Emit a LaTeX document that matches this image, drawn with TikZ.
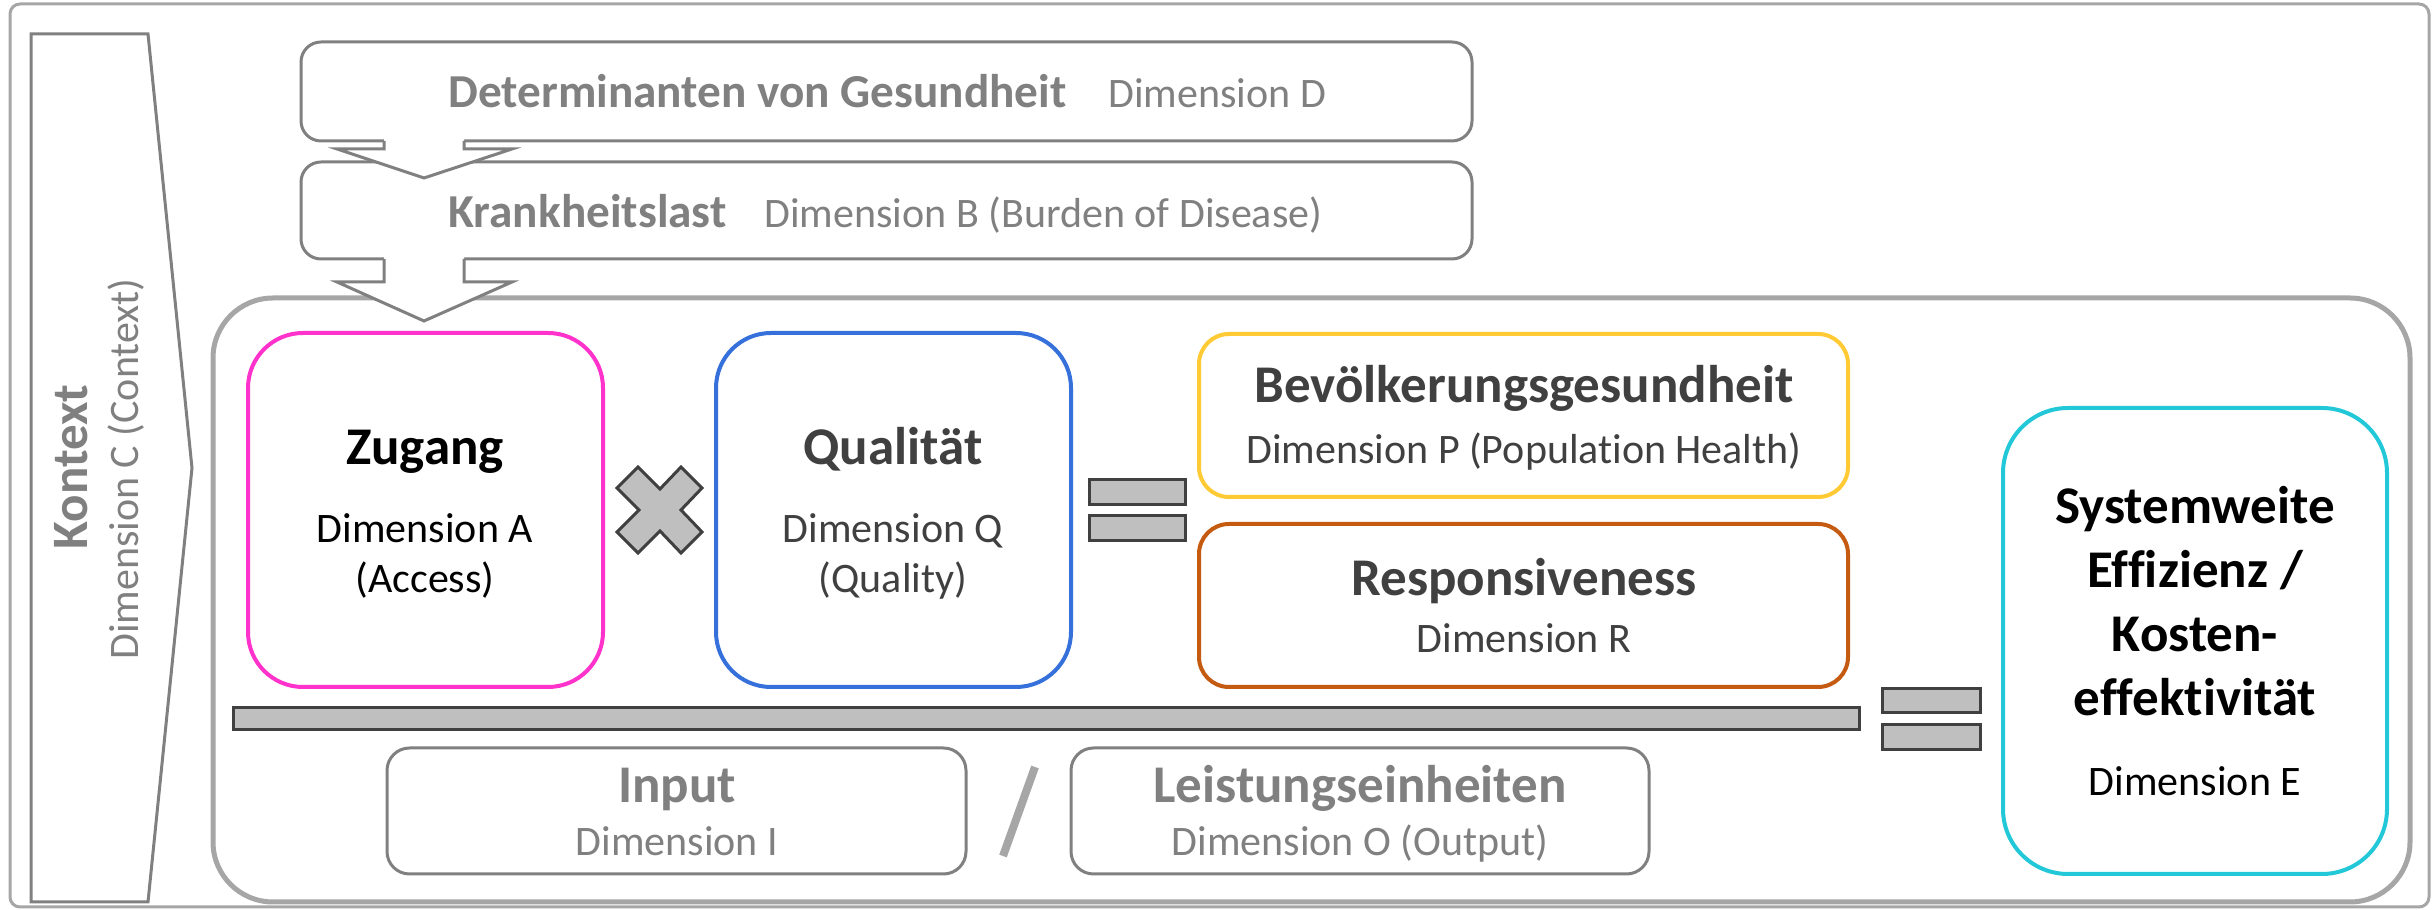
\documentclass[tikz,border=0pt]{standalone}
\usepackage{fontspec}
\setmainfont{Carlito}[Ligatures=CommonOff]
\usetikzlibrary{fit,calc}
\definecolor{lgray}{HTML}{A6A6A6}
\definecolor{mgray}{HTML}{808080}
\definecolor{dgray}{HTML}{404040}
\definecolor{barfill}{HTML}{BFBFBF}
\definecolor{cpink}{HTML}{FF33CC}
\definecolor{cblue}{HTML}{3670DB}
\definecolor{cyellow}{HTML}{FFCA33}
\definecolor{corange}{HTML}{C55A11}
\definecolor{ccyan}{HTML}{22C8D8}
\newcommand\fTitle{\fontsize{21.2pt}{25.4pt}\selectfont\bfseries}
\newcommand\fGT{\fontsize{18.9pt}{22.6pt}\selectfont\bfseries}
\newcommand\fDesc{\fontsize{16.8pt}{20.2pt}\selectfont}
\newcommand\fKon{\fontsize{20.4pt}{24.4pt}\selectfont\bfseries}
\begin{document}
\begin{tikzpicture}[x=0.4pt,y=-0.4pt,
  boxfit/.style={inner sep=0pt, outer sep=0pt},
  colbox/.style={boxfit, line width=1.6pt, rounded corners=22pt, fill=white},
  graybox/.style={boxfit, draw=mgray, line width=1.2pt, rounded corners=8pt, fill=white},
  eqbar/.style={boxfit, fill=barfill, draw=dgray, line width=1.2pt},
  txt/.style={inner sep=0pt, anchor=base},
  blockarrow/.style={draw=mgray, line width=1.2pt, line join=miter},
  ttl/.style={txt, font=\fTitle},
  dsc/.style={txt, font=\fDesc}
]
\useasboundingbox (0,0) rectangle (2435,910);

% outer frame
\node[fit={(10,4)(2429,907)}, boxfit, draw=lgray, line width=1.2pt, rounded corners=4pt] (frame) {};

% context chevron
\draw[draw=mgray, line width=1.2pt, line join=miter] (31,34) -- (148,34) -- (192,468) -- (148,902) -- (31,902) -- cycle;
\node[txt, rotate=90, text=mgray, font=\fKon] (kontext) at (87,467) {Kontext};
\node[txt, rotate=90, text=mgray, font=\fDesc] (dimC) at (138,469) {Dimension C (Context)};

% main container
\node[fit={(213,298)(2410,902)}, boxfit, draw=lgray, line width=2pt, rounded corners=24pt] (main) {};

% top gray boxes
\node[fit={(301,42)(1472,141)}, graybox] (boxD) {};
\node[fit={(301,162)(1472,259)}, graybox] (boxB) {};
\node[txt, anchor=base west, text=mgray, font=\fGT] (detT) at (448,108) {Determinanten von Gesundheit};
\node[txt, anchor=base west, text=mgray, font=\fDesc] (detD) at (1108,108) {Dimension D};
\node[txt, anchor=base west, text=mgray, font=\fGT] (kraT) at (448,228) {Krankheitslast};
\node[txt, anchor=base west, text=mgray, font=\fDesc] (kraD) at (764,228) {Dimension B (Burden of Disease)};

% block arrow D -> B
\coordinate (dbL) at ($(boxD.south west)+(83,0)$);
\coordinate (dbR) at ($(boxD.south west)+(163,0)$);
\coordinate (dbTip) at ($(boxB.north west)+(123,16)$);
\fill[white] ($(dbL)+(0,-5)$) -- (dbL) -- ++(0,8) -- ++(-47,0) -- (dbTip) -- ++(88,-29) -- ++(-48,0) -- (dbR) -- ++(0,-5) -- cycle;
\draw[blockarrow] (dbL) -- ++(0,8) -- ++(-47,0) -- (dbTip) -- ++(88,-29) -- ++(-48,0) -- (dbR);

% block arrow B -> main
\coordinate (bmL) at ($(boxB.south west)+(83,0)$);
\coordinate (bmR) at ($(boxB.south west)+(163,0)$);
\coordinate (bmTip) at ($(main.north west)+(211,23)$);
\fill[white] ($(bmL)+(0,-5)$) -- (bmL) -- ++(0,23) -- ++(-47,0) -- (bmTip) -- ++(88,-39) -- ++(-48,0) -- (bmR) -- ++(0,-5) -- cycle;
\draw[blockarrow] (bmL) -- ++(0,23) -- ++(-47,0) -- (bmTip) -- ++(88,-39) -- ++(-48,0) -- (bmR);

% coloured boxes
\node[fit={(248,333)(603,687)}, colbox, draw=cpink] (zug) {};
\node[fit={(716,333)(1071,687)}, colbox, draw=cblue] (qual) {};
\node[fit={(1199,334)(1848,497)}, colbox, draw=cyellow, rounded corners=12pt] (pop) {};
\node[fit={(1199,524)(1848,687)}, colbox, draw=corange, rounded corners=12pt] (resp) {};
\node[fit={(2003,408)(2387,874)}, colbox, draw=ccyan, rounded corners=26pt] (eff) {};

\node[ttl, text=black] (zugT) at (425,465) {Zugang};
\node[dsc, text=black] (zugD1) at (425,543) {Dimension A};
\node[dsc, text=black] (zugD2) at (425,593) {(Access)};

\node[ttl, text=dgray] (qualT) at (893,465) {Qualität};
\node[dsc, text=dgray] (qualD1) at (893,543) {Dimension Q};
\node[dsc, text=dgray] (qualD2) at (893,593) {(Quality)};

\node[ttl, text=dgray] (popT) at (1524,403) {Bevölkerungsgesundheit};
\node[dsc, text=dgray] (popD) at (1524,464) {Dimension P (Population Health)};

\node[ttl, text=dgray] (respT) at (1524,596) {Responsiveness};
\node[dsc, text=dgray] (respD) at (1524,653) {Dimension R};

\node[ttl, text=black] (effT1) at (2195,524) {Systemweite};
\node[ttl, text=black] (effT2) at (2195,588) {Effizienz /};
\node[ttl, text=black] (effT3) at (2195,652) {Kosten-};
\node[ttl, text=black] (effT4) at (2195,716) {effektivität};
\node[dsc, text=black] (effD) at (2195,796) {Dimension E};

% multiplication sign
\filldraw[fill=barfill, draw=dgray, line width=1.2pt, line join=miter]
  (638,467) -- (660,489) -- (681,467) -- (702,488) -- (681,510) -- (702,532) -- (681,553) -- (660,531) -- (638,553) -- (617,532) -- (639,510) -- (617,488) -- cycle;

% equals signs
\node[fit={(1089,480)(1185,505)}, eqbar] (eqA1) {};
\node[fit={(1089,516)(1185,541)}, eqbar] (eqA2) {};
\node[fit={(1882,689)(1980,713)}, eqbar] (eqB1) {};
\node[fit={(1882,725)(1980,750)}, eqbar] (eqB2) {};

% fraction bar
\node[fit={(233,708)(1859,730)}, eqbar] (bar) {};

% input / output boxes
\node[fit={(387,748)(966,874)}, graybox, rounded corners=9pt] (inp) {};
\node[fit={(1071,748)(1649,874)}, graybox, rounded corners=9pt] (outp) {};
\node[ttl, text=mgray] (inpT) at (677,803) {Input};
\node[dsc, text=mgray] (inpD) at (677,856) {Dimension I};
\node[ttl, text=mgray] (outT) at (1360,803) {Leistungseinheiten};
\node[dsc, text=mgray] (outD) at (1360,856) {Dimension O (Output)};

% slash
\coordinate (slA) at (1035,767);
\coordinate (slB) at (1003,856);
\draw[lgray, line width=3.2pt] (slA) -- (slB);
\end{tikzpicture}
\end{document}
